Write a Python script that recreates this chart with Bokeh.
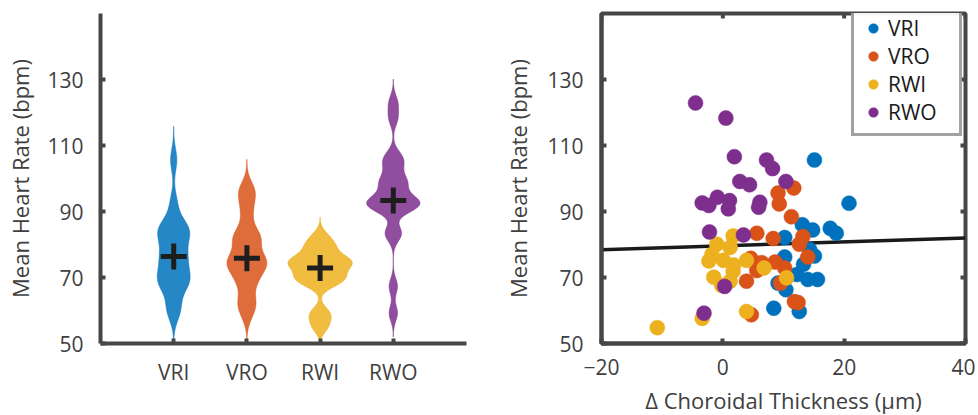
import numpy as np
from bokeh.plotting import figure
from bokeh.layouts import row
from bokeh.models import FixedTicker, Legend, LegendItem
from bokeh.embed import file_html
from bokeh.resources import INLINE

# ---------------- data ----------------
groups = ["VRI", "VRO", "RWI", "RWO"]
colors = ["#0072BD", "#D95319", "#EDB120", "#7E2F8E"]

vri_dct = [15.1, 20.8, 13.1, 14.8, 17.7, 18.7, 10.2, 10.2, 14.3, 15.1, 13.3, 12.2, 14.0, 15.6, 9.1, 10.4, 8.4, 12.6]
vri_hr = [105.6, 92.5, 86.0, 84.4, 84.9, 83.4, 82.1, 76.2, 78.5, 76.5, 74.0, 70.9, 69.4, 69.4, 68.3, 66.3, 60.7, 59.7]

vro_dct = [11.7, 9.1, 9.3, 11.3, 5.6, 8.3, 13.2, 12.6, 14.0, 4.6, 6.4, 5.6, 8.6, 10.2, 3.9, 9.5, 11.8, 12.4, 4.7]
vro_hr = [97.1, 95.6, 92.3, 88.4, 83.4, 81.8, 82.4, 80.1, 76.2, 75.8, 74.5, 72.1, 74.7, 72.9, 68.9, 68.3, 62.7, 62.4, 58.7]

rwi_dct = [1.7, -1.0, 1.2, -1.8, -2.3, 0.1, 3.9, 1.7, -1.5, 1.2, -0.2, -3.4, -10.8, 3.9, 6.8, 10.5, 1.8]
rwi_hr = [82.6, 80.1, 79.1, 77.0, 75.0, 75.2, 75.2, 71.9, 70.1, 68.9, 67.6, 57.6, 54.8, 59.7, 72.9, 69.9, 73.8]

rwo_dct = [-4.5, 0.5, 1.9, 7.2, 8.2, 2.8, 4.4, 10.4, -3.4, -2.3, -0.9, 1.1, 0.9, 6.1, 5.9, -2.2, 3.4, 0.3, -3.1]
rwo_hr = [122.9, 118.3, 106.6, 105.6, 103.0, 99.1, 98.1, 99.1, 92.6, 91.8, 94.3, 93.3, 90.8, 92.8, 91.3, 83.8, 82.9, 67.3, 59.2]

fit_x = [-20, 40]
fit_y = [78.4, 82.0]

kde_bw = [3.4, 2.9, 1.9, 2.4]

y_ticks = [50, 70, 90, 110, 130]
x_ticks_scatter = [-20, 0, 20, 40]
Y_RANGE = (50, 150)
X_RANGE_SCATTER = (-20, 40)

all_dct = [vri_dct, vro_dct, rwi_dct, rwo_dct]
all_hr = [vri_hr, vro_hr, rwi_hr, rwo_hr]

FONT = "Open Sans"
AX = "#464646"
TXT = "#404040"


def style_axis(ax, ticks, standoff):
    ax.ticker = FixedTicker(ticks=ticks)
    ax.axis_line_width = 4
    ax.axis_line_color = AX
    ax.major_tick_line_color = AX
    ax.major_tick_line_width = 4
    ax.major_tick_in = 5
    ax.major_tick_out = 0
    ax.minor_tick_line_color = None
    ax.major_label_text_font = FONT
    ax.major_label_text_font_size = "21px"
    ax.major_label_text_color = TXT
    ax.major_label_standoff = standoff
    ax.axis_label_text_font = FONT
    ax.axis_label_text_font_size = "22px"
    ax.axis_label_text_color = TXT
    ax.axis_label_text_font_style = "normal"


# ---------------- violin plot ----------------
p1 = figure(frame_width=366, frame_height=330, x_range=(0, 5), y_range=Y_RANGE,
            output_backend="svg", toolbar_location=None,
            min_border_left=100, min_border_right=34, min_border_top=13, min_border_bottom=70)
p1.grid.visible = False
p1.outline_line_color = None

dens = []
for hr, bw in zip(all_hr, kde_bw):
    v = np.asarray(hr, dtype=float)
    grid = np.linspace(v.min() - 3 * bw, v.max() + 3 * bw, 300)
    d = np.exp(-0.5 * ((grid[:, None] - v[None, :]) / bw) ** 2).sum(axis=1) / (len(v) * bw * np.sqrt(2 * np.pi))
    dens.append((grid, d))
max_half_width = 0.44
scale = max_half_width / max(d.max() for _, d in dens)

for i, ((grid, d), c) in enumerate(zip(dens, colors)):
    pos = i + 1
    w = d * scale
    xs = np.concatenate([pos + w, (pos - w)[::-1]])
    ys = np.concatenate([grid, grid[::-1]])
    p1.patch(xs, ys, fill_color=c, fill_alpha=0.85, line_color=c, line_alpha=0.5, line_width=1)

medians = [float(np.median(h)) for h in all_hr]
p1.scatter([1, 2, 3, 4], medians, marker="cross", size=26, line_width=5, line_color="#1e1e1e")

style_axis(p1.xaxis[0], [1, 2, 3, 4], 14)
p1.xaxis[0].major_label_overrides = {i + 1: g for i, g in enumerate(groups)}
style_axis(p1.yaxis[0], y_ticks, 17)
p1.yaxis[0].axis_label = "Mean Heart Rate (bpm)"
p1.yaxis[0].axis_label_standoff = 9

# ---------------- scatter plot ----------------
p2 = figure(frame_width=364, frame_height=330, x_range=X_RANGE_SCATTER, y_range=Y_RANGE,
            output_backend="svg", toolbar_location=None,
            min_border_left=100, min_border_right=10, min_border_top=13, min_border_bottom=70)
p2.grid.visible = False
p2.outline_line_color = AX
p2.outline_line_width = 4

# inward ticks on the top and right edges of the box (clipped to the frame)
p2.scatter(x_ticks_scatter, [Y_RANGE[1]] * len(x_ticks_scatter), marker="dash", angle=np.pi / 2,
           size=10, line_width=4, line_color=AX)
p2.scatter([X_RANGE_SCATTER[1]] * len(y_ticks), y_ticks, marker="dash",
           size=10, line_width=4, line_color=AX)

p2.line(fit_x, fit_y, line_color="#1a1a1a", line_width=3.5)

items = []
for g, c, xd, yd in zip(groups, colors, all_dct, all_hr):
    r = p2.scatter(xd, yd, size=15, fill_color=c, line_color=c, line_width=0.5)
    items.append(LegendItem(label=g, renderers=[r]))

style_axis(p2.xaxis[0], x_ticks_scatter, 15)
p2.xaxis[0].axis_label = "\u0394 Choroidal Thickness (\u03bcm)"
p2.xaxis[0].axis_label_standoff = 7
style_axis(p2.yaxis[0], y_ticks, 18)
p2.yaxis[0].axis_label = "Mean Heart Rate (bpm)"
p2.yaxis[0].axis_label_standoff = 11

legend = Legend(items=items, location=(250, 207))
legend.label_text_font = FONT
legend.label_text_font_size = "21px"
legend.label_text_color = "#1a1a1a"
legend.border_line_color = AX
legend.border_line_width = 3
legend.glyph_width = 24
legend.glyph_height = 26
legend.label_height = 26
legend.spacing = 0
legend.padding = 7
legend.label_standoff = 3
legend.label_width = 64
legend.margin = 0
p2.add_layout(legend)

layout = row(p1, p2)
open("out.html", "w").write(file_html(layout, INLINE))
